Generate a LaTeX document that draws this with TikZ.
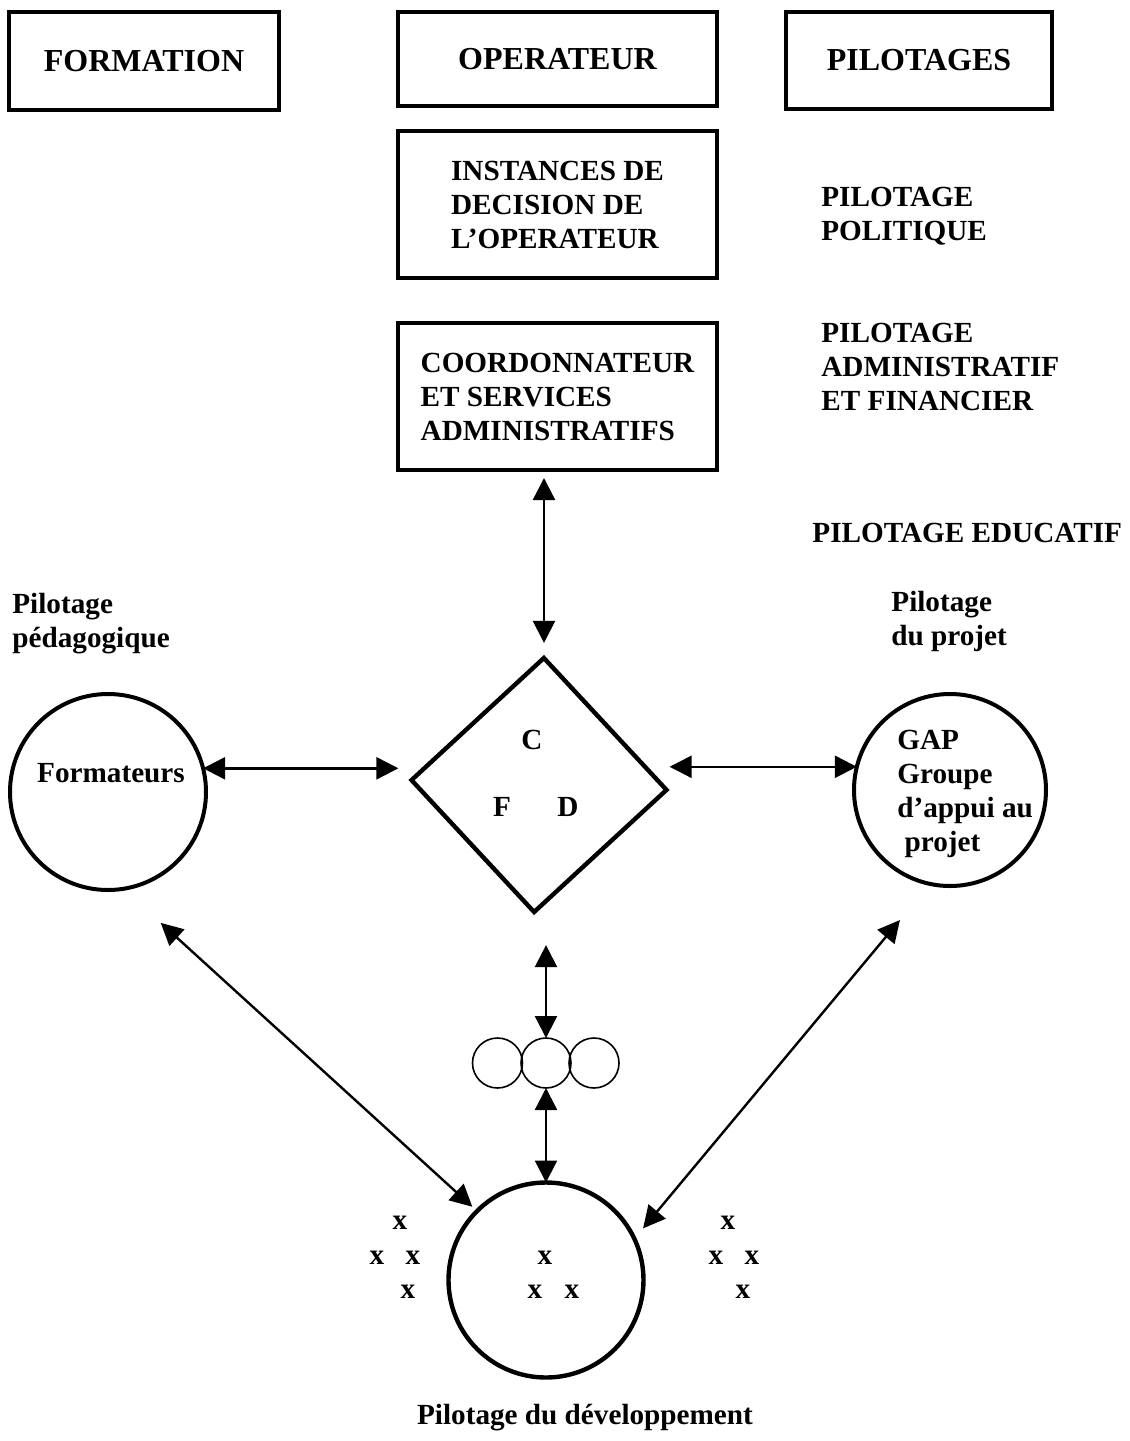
\documentclass[tikz,border=0pt]{standalone}
\usepackage{fontspec}
\setmainfont{Liberation Serif}
\usepackage{tikz}
\usetikzlibrary{calc}
\usetikzlibrary{shapes.geometric}
\usetikzlibrary{arrows.meta}
\tikzset{bighead/.tip={Triangle[length=11pt,width=11pt]}}

\begin{document}
\begin{tikzpicture}[x=0.5pt, y=-0.5pt,
        every node/.style={font=\bfseries\fontsize{14.6}{17}\selectfont},
        title/.style={font=\bfseries\fontsize{16}{19}\selectfont},
        box/.style={draw, line width=2pt, inner sep=0pt},
        lbl/.style={anchor=west, align=left, inner sep=0pt},
        ring/.style={draw, circle, inner sep=0pt, outer sep=0pt},
        link/.style={bighead-bighead, line width=1.2pt}]
        \useasboundingbox (0,0) rectangle (1130,1441);

        % column heads
        \node [box, title, minimum width=135pt, minimum height=49pt] (formation) at (144,61) {FORMATION};
        \node [box, title, minimum width=159.5pt, minimum height=47pt] (operateur) at (557.5,59) {OPERATEUR};
        \node [box, title, minimum width=133pt, minimum height=48.5pt] (pilotages) at (919,60) {PILOTAGES};

        % operateur
        \node [box, align=left, minimum width=159.5pt, minimum height=73.5pt] (instances) at (557.5,204.5) {INSTANCES DE\\DECISION DE\\L’OPERATEUR};
        \node [box, align=left, minimum width=159.5pt, minimum height=73.5pt] (coord) at (557.5,396.5) {COORDONNATEUR\\ET SERVICES\\ADMINISTRATIFS};

        % pilotages
        \node [lbl] (politique) at (821,216) {PILOTAGE\\POLITIQUE};
        \node [lbl] (admin) at (821,367) {PILOTAGE\\ADMINISTRATIF\\ET FINANCIER};
        \node [lbl] (educatif) at (812,533) {PILOTAGE EDUCATIF};
        \node [lbl] (pedago) at (12,624) {Pilotage\\pédagogique};
        \node [lbl] (projet) at (891,621) {Pilotage\\du projet};

        % formateurs, CFD, GAP
        \node [ring, line width=2pt, minimum size=98pt] (form) at (108,792) {};
        \node (formtext) at (111,773) {Formateurs};
        \node [draw, diamond, line width=2.2pt, inner sep=0pt, minimum width=128.5pt, minimum height=128pt, rotate=-2.2] (fcd) at (539,785) {};
        \node (c) at (532,740) {C};
        \node (f) at (502,807) {F};
        \node (d) at (568,807) {D};
        \node [ring, line width=2pt, minimum size=96pt] (gap) at (950,790) {};
        \node [lbl] (gaptext) at (897,794) {GAP\\Groupe\\d’appui au\\~projet};

        % rings and development
        \node [ring, line width=0.8pt, minimum size=25pt] (ring2) at (546,1063) {};
        \node [ring, line width=0.8pt, minimum size=25pt] (ring1) at ($(ring2)+(-48.5,0)$) {};
        \node [ring, line width=0.8pt, minimum size=25pt] (ring3) at ($(ring2)+(48,0)$) {};
        \node [ring, line width=2.2pt, minimum size=97.5pt] (dev) at (546,1280) {};
        \node (devtext) at (585,1418) {Pilotage du développement};

        \node (xl1) at (400,1223) {x};
        \node (xl2) at (377,1258) {x};
        \node (xl3) at (413,1258) {x};
        \node (xl4) at (408,1292) {x};
        \node (xc1) at (545,1258) {x};
        \node (xc2) at (535,1292) {x};
        \node (xc3) at (572,1292) {x};
        \node (xr1) at (728,1223) {x};
        \node (xr2) at (716,1258) {x};
        \node (xr3) at (752,1258) {x};
        \node (xr4) at (743,1292) {x};

        % links
        \draw [link, shorten <=3pt, shorten >=6pt] (fcd.north |- coord.south) -- (fcd.north);
        \draw [link, shorten >=5pt] (form.14) -- (form.14 -| fcd.west);
        \draw [link] (fcd.east |- gap.166) -- (gap.166);
        \draw [link, shorten <=15pt] (ring2.north |- fcd.south) -- (ring2.north);
        \draw [link] (ring2.south) -- (dev.north);
        \draw [link, shorten <=25.3pt, shorten >=3.2pt] (form.279) -- (dev.135);
        \draw [link, shorten <=23.5pt, shorten >=6.8pt] (gap.258) -- (dev.25);
    \end{tikzpicture}
\end{document}
